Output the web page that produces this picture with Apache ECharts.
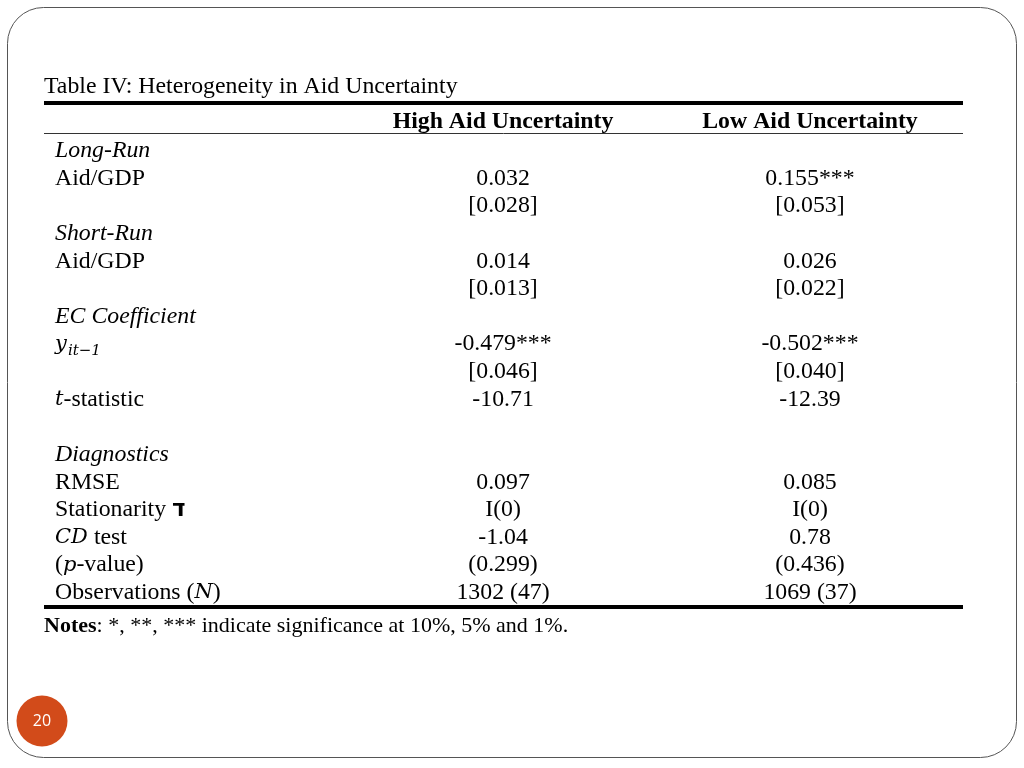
<!DOCTYPE html>
<html><head><meta charset="utf-8">
<script src="https://cdn.jsdelivr.net/npm/echarts@6/dist/echarts.min.js"></script>
<style>html,body{margin:0;padding:0;background:#fff}#c{width:1024px;height:768px}</style>
</head><body><div id="c"></div>
<script>
// ---- table content ----
const tableTitle = 'Table IV: Heterogeneity in Aid Uncertainty';
const columnHeaders = ['High Aid Uncertainty', 'Low Aid Uncertainty'];
const rowLabels = ['Long-Run', 'Aid/GDP', '', 'Short-Run', 'Aid/GDP', '', 'EC Coefficient',
  '{m|y}{s|it\u22121}', '', '{m|t}-statistic', '', 'Diagnostics', 'RMSE', 'Stationarity {h|\u05D3}',
  '{m|CD} test', '({m|p}-value)', 'Observations ({m|N})'];
const highAid = ['', '0.032', '[0.028]', '', '0.014', '[0.013]', '', '-0.479***', '[0.046]', '-10.71',
  '', '', '0.097', 'I(0)', '-1.04', '(0.299)', '1302 (47)'];
const lowAid = ['', '0.155***', '[0.053]', '', '0.026', '[0.022]', '', '-0.502***', '[0.040]', '-12.39',
  '', '', '0.085', 'I(0)', '0.78', '(0.436)', '1069 (37)'];
const sectionRows = ['Long-Run', 'Short-Run', 'EC Coefficient', 'Diagnostics'];
const notesText = '{b|Notes}: *, **, *** indicate significance at 10%, 5% and 1%.';
const pageNumber = '20';

// ---- layout (not data) ----
const colX = { label: 0.012, high: 0.4995, low: 0.8335, left: 0 };
const rowPos = { title: -2.32, header: -1.05, topRule: -1.75, headRule: -0.65, bottomRule: 16.52, notes: 17.2 };
const serif = '"Liberation Serif","Times New Roman",serif';
const mathFont = '"DejaVu Serif",serif';
const FS = 23.8;
const rich = {
  m: { fontFamily: mathFont, fontStyle: 'italic', fontSize: 21, color: '#000', opacity: 1 },
  s: { fontFamily: mathFont, fontStyle: 'italic', fontSize: 15, color: '#000', opacity: 1, padding: [14, 0, 0, 1] },
  h: { fontFamily: '"DejaVu Sans",sans-serif', fontWeight: 'bold', fontSize: 23, color: '#000', opacity: 1 },
  b: { fontFamily: serif, fontWeight: 'bold', fontSize: 22, color: '#000', opacity: 1 }
};

function baseLabel(extra) {
  return Object.assign({
    show: true, position: 'inside', align: 'left', verticalAlign: 'middle',
    fontFamily: serif, fontSize: FS, color: '#000', textBorderWidth: 0, opacity: 1,
    formatter: p => p.name, rich: rich
  }, extra || {});
}
function textSeries(name, items, label, extra) {
  return Object.assign({
    type: 'scatter', name: name, symbolSize: 0, silent: true, clip: false,
    itemStyle: { opacity: 1 },
    data: items, label: label
  }, extra || {});
}

const labelItems = rowLabels.map((t, i) => ({
  value: [colX.label, i], name: t,
  label: sectionRows.includes(t) ? { fontStyle: 'italic' } : {}
})).filter(d => d.name !== '');
const highItems = highAid.map((t, i) => ({ value: [colX.high, i], name: t })).filter(d => d.name !== '');
const lowItems = lowAid.map((t, i) => ({ value: [colX.low, i], name: t })).filter(d => d.name !== '');
const headerItems = [
  { value: [colX.high, rowPos.header], name: columnHeaders[0] },
  { value: [colX.low, rowPos.header], name: columnHeaders[1] }
];

const chart = echarts.init(document.getElementById('c'), null, { renderer: 'canvas' });
chart.setOption({
  backgroundColor: '#fff',
  animation: false,
  grid: { left: 44, right: 61, top: 68, bottom: 119.9 },
  xAxis: { type: 'value', min: 0, max: 1, show: false },
  yAxis: { type: 'value', min: -3, max: 18, inverse: true, show: false },
  graphic: [
    { type: 'rect', shape: { x: 7.5, y: 7.5, width: 1009, height: 750, r: 36 },
      style: { fill: 'none', stroke: '#555', lineWidth: 1 }, silent: true, z: -1 },
    { type: 'circle', shape: { cx: 42, cy: 721, r: 25.5 }, style: { fill: '#D24B1A' }, silent: true },
    { type: 'text', x: 42, y: 721, style: { text: pageNumber, fill: '#fff', font: '16px "Open Sans",sans-serif',
      align: 'center', verticalAlign: 'middle' }, silent: true }
  ],
  series: [
    textSeries('labels', labelItems, baseLabel(), {
      markLine: {
        silent: true, symbol: 'none', label: { show: false },
        lineStyle: { color: '#000', type: 'solid' },
        data: [
          { yAxis: rowPos.topRule, lineStyle: { width: 4, color: '#000', type: 'solid' } },
          { yAxis: rowPos.headRule, lineStyle: { width: 1, color: '#333', type: 'solid' } },
          { yAxis: rowPos.bottomRule, lineStyle: { width: 4, color: '#000', type: 'solid' } }
        ]
      }
    }),
    textSeries('high', highItems, baseLabel({ align: 'center' })),
    textSeries('low', lowItems, baseLabel({ align: 'center' })),
    textSeries('headers', headerItems, baseLabel({ align: 'center', fontWeight: 'bold' })),
    textSeries('title', [{ value: [colX.left, rowPos.title], name: tableTitle }], baseLabel()),
    textSeries('notes', [{ value: [colX.left, rowPos.notes], name: notesText }], baseLabel({ fontSize: 22 }))
  ]
});
</script></body></html>
